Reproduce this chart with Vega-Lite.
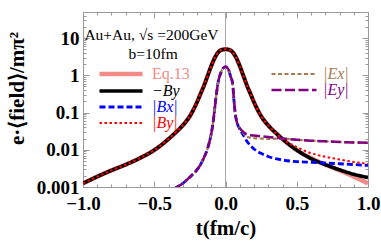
{
  "$schema": "https://vega.github.io/schema/vega-lite/v6.json",
  "width": 285,
  "height": 175,
  "autosize": "none",
  "padding": {"left": 83, "top": 12, "right": 13, "bottom": 58},
  "config": {
    "view": {"stroke": "#9a9a9a", "strokeWidth": 1},
    "font": "Liberation Serif"
  },
  "datasets": {
    "curves": [
      {"g": "B", "s": "Eq.13", "t": -1, "v": 0.00125}, {"g": "B", "s": "Eq.13", "t": -0.9, "v": 0.0019}, {"g": "B", "s": "Eq.13", "t": -0.8, "v": 0.0028}, {"g": "B", "s": "Eq.13", "t": -0.7, "v": 0.004}, {"g": "B", "s": "Eq.13", "t": -0.6, "v": 0.006}, {"g": "B", "s": "Eq.13", "t": -0.5, "v": 0.0098}, {"g": "B", "s": "Eq.13", "t": -0.45, "v": 0.0135}, {"g": "B", "s": "Eq.13", "t": -0.4, "v": 0.0195}, {"g": "B", "s": "Eq.13", "t": -0.35, "v": 0.029}, {"g": "B", "s": "Eq.13", "t": -0.3, "v": 0.045}, {"g": "B", "s": "Eq.13", "t": -0.25, "v": 0.08}, {"g": "B", "s": "Eq.13", "t": -0.2, "v": 0.19}, {"g": "B", "s": "Eq.13", "t": -0.175, "v": 0.32}, {"g": "B", "s": "Eq.13", "t": -0.15, "v": 0.54}, {"g": "B", "s": "Eq.13", "t": -0.125, "v": 0.98}, {"g": "B", "s": "Eq.13", "t": -0.1, "v": 1.78}, {"g": "B", "s": "Eq.13", "t": -0.075, "v": 2.95}, {"g": "B", "s": "Eq.13", "t": -0.05, "v": 4.2}, {"g": "B", "s": "Eq.13", "t": -0.025, "v": 4.85}, {"g": "B", "s": "Eq.13", "t": 0, "v": 5.0},
      {"g": "B", "s": "Eq.13", "t": 0.025, "v": 4.85}, {"g": "B", "s": "Eq.13", "t": 0.05, "v": 4.2}, {"g": "B", "s": "Eq.13", "t": 0.075, "v": 2.95}, {"g": "B", "s": "Eq.13", "t": 0.1, "v": 1.78}, {"g": "B", "s": "Eq.13", "t": 0.125, "v": 0.98}, {"g": "B", "s": "Eq.13", "t": 0.15, "v": 0.54}, {"g": "B", "s": "Eq.13", "t": 0.175, "v": 0.32}, {"g": "B", "s": "Eq.13", "t": 0.2, "v": 0.19}, {"g": "B", "s": "Eq.13", "t": 0.25, "v": 0.08}, {"g": "B", "s": "Eq.13", "t": 0.3, "v": 0.045}, {"g": "B", "s": "Eq.13", "t": 0.35, "v": 0.029}, {"g": "B", "s": "Eq.13", "t": 0.4, "v": 0.0195}, {"g": "B", "s": "Eq.13", "t": 0.45, "v": 0.0135}, {"g": "B", "s": "Eq.13", "t": 0.5, "v": 0.0098}, {"g": "B", "s": "Eq.13", "t": 0.6, "v": 0.006}, {"g": "B", "s": "Eq.13", "t": 0.7, "v": 0.004}, {"g": "B", "s": "Eq.13", "t": 0.8, "v": 0.0028}, {"g": "B", "s": "Eq.13", "t": 0.9, "v": 0.0019}, {"g": "B", "s": "Eq.13", "t": 1, "v": 0.00125},

      {"g": "B", "s": "−By", "t": -1, "v": 0.00125}, {"g": "B", "s": "−By", "t": -0.9, "v": 0.0019}, {"g": "B", "s": "−By", "t": -0.8, "v": 0.0028}, {"g": "B", "s": "−By", "t": -0.7, "v": 0.004}, {"g": "B", "s": "−By", "t": -0.6, "v": 0.006}, {"g": "B", "s": "−By", "t": -0.5, "v": 0.0098}, {"g": "B", "s": "−By", "t": -0.45, "v": 0.0135}, {"g": "B", "s": "−By", "t": -0.4, "v": 0.0195}, {"g": "B", "s": "−By", "t": -0.35, "v": 0.029}, {"g": "B", "s": "−By", "t": -0.3, "v": 0.045}, {"g": "B", "s": "−By", "t": -0.25, "v": 0.08}, {"g": "B", "s": "−By", "t": -0.2, "v": 0.19}, {"g": "B", "s": "−By", "t": -0.175, "v": 0.32}, {"g": "B", "s": "−By", "t": -0.15, "v": 0.54}, {"g": "B", "s": "−By", "t": -0.125, "v": 0.98}, {"g": "B", "s": "−By", "t": -0.1, "v": 1.78}, {"g": "B", "s": "−By", "t": -0.075, "v": 2.95}, {"g": "B", "s": "−By", "t": -0.05, "v": 4.2}, {"g": "B", "s": "−By", "t": -0.025, "v": 4.85}, {"g": "B", "s": "−By", "t": 0, "v": 5.0},
      {"g": "B", "s": "−By", "t": 0.025, "v": 4.85}, {"g": "B", "s": "−By", "t": 0.05, "v": 4.2}, {"g": "B", "s": "−By", "t": 0.075, "v": 2.95}, {"g": "B", "s": "−By", "t": 0.1, "v": 1.78}, {"g": "B", "s": "−By", "t": 0.125, "v": 0.98}, {"g": "B", "s": "−By", "t": 0.15, "v": 0.54}, {"g": "B", "s": "−By", "t": 0.175, "v": 0.32}, {"g": "B", "s": "−By", "t": 0.2, "v": 0.19}, {"g": "B", "s": "−By", "t": 0.25, "v": 0.08}, {"g": "B", "s": "−By", "t": 0.3, "v": 0.045}, {"g": "B", "s": "−By", "t": 0.35, "v": 0.029}, {"g": "B", "s": "−By", "t": 0.4, "v": 0.0195}, {"g": "B", "s": "−By", "t": 0.45, "v": 0.0135}, {"g": "B", "s": "−By", "t": 0.5, "v": 0.0098}, {"g": "B", "s": "−By", "t": 0.6, "v": 0.0058}, {"g": "B", "s": "−By", "t": 0.7, "v": 0.004}, {"g": "B", "s": "−By", "t": 0.8, "v": 0.0029}, {"g": "B", "s": "−By", "t": 0.9, "v": 0.0022}, {"g": "B", "s": "−By", "t": 1, "v": 0.0018},

      {"g": "B", "s": "|Bx|", "t": -0.36, "v": 0.0009}, {"g": "B", "s": "|Bx|", "t": -0.34, "v": 0.001}, {"g": "B", "s": "|Bx|", "t": -0.3, "v": 0.00125}, {"g": "B", "s": "|Bx|", "t": -0.25, "v": 0.00185}, {"g": "B", "s": "|Bx|", "t": -0.2, "v": 0.0029}, {"g": "B", "s": "|Bx|", "t": -0.175, "v": 0.004}, {"g": "B", "s": "|Bx|", "t": -0.15, "v": 0.0063}, {"g": "B", "s": "|Bx|", "t": -0.125, "v": 0.011}, {"g": "B", "s": "|Bx|", "t": -0.1, "v": 0.027}, {"g": "B", "s": "|Bx|", "t": -0.09, "v": 0.045}, {"g": "B", "s": "|Bx|", "t": -0.08, "v": 0.09}, {"g": "B", "s": "|Bx|", "t": -0.07, "v": 0.2}, {"g": "B", "s": "|Bx|", "t": -0.06, "v": 0.4}, {"g": "B", "s": "|Bx|", "t": -0.05, "v": 0.7}, {"g": "B", "s": "|Bx|", "t": -0.035, "v": 1.1}, {"g": "B", "s": "|Bx|", "t": -0.02, "v": 1.5}, {"g": "B", "s": "|Bx|", "t": 0, "v": 1.7},
      {"g": "B", "s": "|Bx|", "t": 0.02, "v": 1.45}, {"g": "B", "s": "|Bx|", "t": 0.035, "v": 0.95}, {"g": "B", "s": "|Bx|", "t": 0.05, "v": 0.6}, {"g": "B", "s": "|Bx|", "t": 0.06, "v": 0.2}, {"g": "B", "s": "|Bx|", "t": 0.07, "v": 0.085}, {"g": "B", "s": "|Bx|", "t": 0.08, "v": 0.055}, {"g": "B", "s": "|Bx|", "t": 0.1, "v": 0.036}, {"g": "B", "s": "|Bx|", "t": 0.125, "v": 0.025}, {"g": "B", "s": "|Bx|", "t": 0.15, "v": 0.017}, {"g": "B", "s": "|Bx|", "t": 0.175, "v": 0.013}, {"g": "B", "s": "|Bx|", "t": 0.2, "v": 0.0105}, {"g": "B", "s": "|Bx|", "t": 0.25, "v": 0.008}, {"g": "B", "s": "|Bx|", "t": 0.3, "v": 0.0066}, {"g": "B", "s": "|Bx|", "t": 0.35, "v": 0.0058}, {"g": "B", "s": "|Bx|", "t": 0.4, "v": 0.0053}, {"g": "B", "s": "|Bx|", "t": 0.5, "v": 0.0048}, {"g": "B", "s": "|Bx|", "t": 0.6, "v": 0.0046}, {"g": "B", "s": "|Bx|", "t": 0.7, "v": 0.0044}, {"g": "B", "s": "|Bx|", "t": 0.8, "v": 0.0042}, {"g": "B", "s": "|Bx|", "t": 0.9, "v": 0.004}, {"g": "B", "s": "|Bx|", "t": 1, "v": 0.0038},

      {"g": "B", "s": "|By|", "t": -1, "v": 0.00125}, {"g": "B", "s": "|By|", "t": -0.9, "v": 0.0019}, {"g": "B", "s": "|By|", "t": -0.8, "v": 0.0028}, {"g": "B", "s": "|By|", "t": -0.7, "v": 0.004}, {"g": "B", "s": "|By|", "t": -0.6, "v": 0.006}, {"g": "B", "s": "|By|", "t": -0.5, "v": 0.0098}, {"g": "B", "s": "|By|", "t": -0.45, "v": 0.0135}, {"g": "B", "s": "|By|", "t": -0.4, "v": 0.0195}, {"g": "B", "s": "|By|", "t": -0.35, "v": 0.029}, {"g": "B", "s": "|By|", "t": -0.3, "v": 0.045}, {"g": "B", "s": "|By|", "t": -0.25, "v": 0.08}, {"g": "B", "s": "|By|", "t": -0.2, "v": 0.19}, {"g": "B", "s": "|By|", "t": -0.175, "v": 0.32}, {"g": "B", "s": "|By|", "t": -0.15, "v": 0.54}, {"g": "B", "s": "|By|", "t": -0.125, "v": 0.98}, {"g": "B", "s": "|By|", "t": -0.1, "v": 1.78}, {"g": "B", "s": "|By|", "t": -0.075, "v": 2.95}, {"g": "B", "s": "|By|", "t": -0.05, "v": 4.2}, {"g": "B", "s": "|By|", "t": -0.025, "v": 4.85}, {"g": "B", "s": "|By|", "t": 0, "v": 5.0},
      {"g": "B", "s": "|By|", "t": 0.025, "v": 4.85}, {"g": "B", "s": "|By|", "t": 0.05, "v": 4.2}, {"g": "B", "s": "|By|", "t": 0.075, "v": 2.95}, {"g": "B", "s": "|By|", "t": 0.1, "v": 1.78}, {"g": "B", "s": "|By|", "t": 0.125, "v": 0.98}, {"g": "B", "s": "|By|", "t": 0.15, "v": 0.54}, {"g": "B", "s": "|By|", "t": 0.175, "v": 0.32}, {"g": "B", "s": "|By|", "t": 0.2, "v": 0.19}, {"g": "B", "s": "|By|", "t": 0.25, "v": 0.08}, {"g": "B", "s": "|By|", "t": 0.3, "v": 0.045}, {"g": "B", "s": "|By|", "t": 0.35, "v": 0.029}, {"g": "B", "s": "|By|", "t": 0.4, "v": 0.0195}, {"g": "B", "s": "|By|", "t": 0.45, "v": 0.0148}, {"g": "B", "s": "|By|", "t": 0.5, "v": 0.0118}, {"g": "B", "s": "|By|", "t": 0.6, "v": 0.0081}, {"g": "B", "s": "|By|", "t": 0.7, "v": 0.0065}, {"g": "B", "s": "|By|", "t": 0.8, "v": 0.0055}, {"g": "B", "s": "|By|", "t": 0.9, "v": 0.0047}, {"g": "B", "s": "|By|", "t": 1, "v": 0.0042},

      {"g": "E", "s": "|Ex|", "t": -0.36, "v": 0.0009}, {"g": "E", "s": "|Ex|", "t": -0.34, "v": 0.001}, {"g": "E", "s": "|Ex|", "t": -0.3, "v": 0.00125}, {"g": "E", "s": "|Ex|", "t": -0.25, "v": 0.00185}, {"g": "E", "s": "|Ex|", "t": -0.2, "v": 0.0029}, {"g": "E", "s": "|Ex|", "t": -0.175, "v": 0.004}, {"g": "E", "s": "|Ex|", "t": -0.15, "v": 0.0063}, {"g": "E", "s": "|Ex|", "t": -0.125, "v": 0.011}, {"g": "E", "s": "|Ex|", "t": -0.1, "v": 0.027}, {"g": "E", "s": "|Ex|", "t": -0.09, "v": 0.045}, {"g": "E", "s": "|Ex|", "t": -0.08, "v": 0.09}, {"g": "E", "s": "|Ex|", "t": -0.07, "v": 0.2}, {"g": "E", "s": "|Ex|", "t": -0.06, "v": 0.4}, {"g": "E", "s": "|Ex|", "t": -0.05, "v": 0.7}, {"g": "E", "s": "|Ex|", "t": -0.035, "v": 1.1}, {"g": "E", "s": "|Ex|", "t": -0.02, "v": 1.5}, {"g": "E", "s": "|Ex|", "t": 0, "v": 1.7},
      {"g": "E", "s": "|Ex|", "t": 0.02, "v": 1.45}, {"g": "E", "s": "|Ex|", "t": 0.035, "v": 0.95}, {"g": "E", "s": "|Ex|", "t": 0.05, "v": 0.6}, {"g": "E", "s": "|Ex|", "t": 0.06, "v": 0.2}, {"g": "E", "s": "|Ex|", "t": 0.07, "v": 0.085}, {"g": "E", "s": "|Ex|", "t": 0.08, "v": 0.055}, {"g": "E", "s": "|Ex|", "t": 0.1, "v": 0.038}, {"g": "E", "s": "|Ex|", "t": 0.125, "v": 0.028}, {"g": "E", "s": "|Ex|", "t": 0.15, "v": 0.0225}, {"g": "E", "s": "|Ex|", "t": 0.2, "v": 0.0205}, {"g": "E", "s": "|Ex|", "t": 0.25, "v": 0.02}, {"g": "E", "s": "|Ex|", "t": 0.3, "v": 0.0195}, {"g": "E", "s": "|Ex|", "t": 0.35, "v": 0.0198}, {"g": "E", "s": "|Ex|", "t": 0.4, "v": 0.02}, {"g": "E", "s": "|Ex|", "t": 0.5, "v": 0.0185}, {"g": "E", "s": "|Ex|", "t": 0.6, "v": 0.0175}, {"g": "E", "s": "|Ex|", "t": 0.7, "v": 0.0168}, {"g": "E", "s": "|Ex|", "t": 0.8, "v": 0.0162}, {"g": "E", "s": "|Ex|", "t": 0.9, "v": 0.0157}, {"g": "E", "s": "|Ex|", "t": 1, "v": 0.0153},

      {"g": "E", "s": "|Ey|", "t": -0.36, "v": 0.0009}, {"g": "E", "s": "|Ey|", "t": -0.34, "v": 0.001}, {"g": "E", "s": "|Ey|", "t": -0.3, "v": 0.00125}, {"g": "E", "s": "|Ey|", "t": -0.25, "v": 0.00185}, {"g": "E", "s": "|Ey|", "t": -0.2, "v": 0.0029}, {"g": "E", "s": "|Ey|", "t": -0.175, "v": 0.004}, {"g": "E", "s": "|Ey|", "t": -0.15, "v": 0.0063}, {"g": "E", "s": "|Ey|", "t": -0.125, "v": 0.011}, {"g": "E", "s": "|Ey|", "t": -0.1, "v": 0.027}, {"g": "E", "s": "|Ey|", "t": -0.09, "v": 0.045}, {"g": "E", "s": "|Ey|", "t": -0.08, "v": 0.09}, {"g": "E", "s": "|Ey|", "t": -0.07, "v": 0.2}, {"g": "E", "s": "|Ey|", "t": -0.06, "v": 0.4}, {"g": "E", "s": "|Ey|", "t": -0.05, "v": 0.7}, {"g": "E", "s": "|Ey|", "t": -0.035, "v": 1.1}, {"g": "E", "s": "|Ey|", "t": -0.02, "v": 1.5}, {"g": "E", "s": "|Ey|", "t": 0, "v": 1.7},
      {"g": "E", "s": "|Ey|", "t": 0.02, "v": 1.45}, {"g": "E", "s": "|Ey|", "t": 0.035, "v": 0.95}, {"g": "E", "s": "|Ey|", "t": 0.05, "v": 0.6}, {"g": "E", "s": "|Ey|", "t": 0.06, "v": 0.2}, {"g": "E", "s": "|Ey|", "t": 0.07, "v": 0.085}, {"g": "E", "s": "|Ey|", "t": 0.08, "v": 0.055}, {"g": "E", "s": "|Ey|", "t": 0.1, "v": 0.038}, {"g": "E", "s": "|Ey|", "t": 0.125, "v": 0.03}, {"g": "E", "s": "|Ey|", "t": 0.15, "v": 0.026}, {"g": "E", "s": "|Ey|", "t": 0.2, "v": 0.024}, {"g": "E", "s": "|Ey|", "t": 0.25, "v": 0.023}, {"g": "E", "s": "|Ey|", "t": 0.3, "v": 0.022}, {"g": "E", "s": "|Ey|", "t": 0.35, "v": 0.021}, {"g": "E", "s": "|Ey|", "t": 0.4, "v": 0.02}, {"g": "E", "s": "|Ey|", "t": 0.5, "v": 0.0185}, {"g": "E", "s": "|Ey|", "t": 0.6, "v": 0.0175}, {"g": "E", "s": "|Ey|", "t": 0.7, "v": 0.0168}, {"g": "E", "s": "|Ey|", "t": 0.8, "v": 0.0162}, {"g": "E", "s": "|Ey|", "t": 0.9, "v": 0.0157}, {"g": "E", "s": "|Ey|", "t": 1, "v": 0.0153}
    ]
  },
  "data": {"name": "curves"},
  "layer": [
    {
      "layer": [
        {
          "data": {"values": [{}]},
          "mark": {"type": "rule", "color": "#a8a8a8", "strokeWidth": 1},
          "encoding": {"x": {"datum": 0, "type": "quantitative", "scale": {"domain": [-1, 1], "nice": false, "zero": false}}}
        },
        {
          "transform": [{"filter": "datum.g == 'B'"}],
          "mark": {"type": "line", "clip": true, "interpolate": "monotone"},
          "encoding": {
            "x": {
              "field": "t", "type": "quantitative",
              "scale": {"domain": [-1, 1], "nice": false, "zero": false},
              "axis": {
                "title": "t(fm/c)", "titleFont": "Liberation Serif", "titleFontWeight": "bold", "titleFontSize": 21, "titleColor": "black", "titlePadding": 4,
                "values": [-1, -0.5, 0, 0.5, 1], "format": ".1f",
                "labelFont": "Liberation Serif", "labelFontWeight": "bold", "labelFontSize": 19, "labelColor": "black",
                "labelOverlap": false, "labelFlush": false, "labelBound": false, "labelPadding": 7,
                "domain": false, "ticks": false,
                "grid": true, "gridColor": "#9a9a9a", "gridWidth": 1, "gridDash": [6, 163, 6]
              }
            },
            "y": {
              "field": "v", "type": "quantitative",
              "scale": {"type": "log", "domain": [0.001, 50], "nice": false, "zero": false},
              "axis": {
                "title": "e·⟨field⟩/mπ²", "titleFont": "Liberation Serif", "titleFontWeight": "bold", "titleFontSize": 21, "titleColor": "black",
                "titleX": -66, "titleY": 76, "titleAngle": 270, "titleAlign": "center", "titleBaseline": "middle",
                "values": [0.001, 0.01, 0.1, 1, 10], "format": "~g",
                "labelFont": "Liberation Serif", "labelFontWeight": "bold", "labelFontSize": 19, "labelColor": "black",
                "labelOverlap": false, "labelFlush": false, "labelBound": false, "labelPadding": 4, "labelBaseline": "middle",
                "domain": false, "ticks": false,
                "grid": true, "gridColor": "#9a9a9a", "gridWidth": 1, "gridDash": [6, 273, 6]
              }
            },
            "color": {
              "field": "s", "type": "nominal",
              "scale": {"domain": ["Eq.13", "−By", "|Bx|", "|By|"], "range": ["#f28b87", "#000000", "#0000ff", "#ff0000"]},
              "legend": {
                "title": null, "orient": "none", "legendX": 30, "legendY": 54,
                "symbolType": "M-6,0H6", "symbolSize": 51.4, "symbolOffset": 0,
                "labelFont": "Liberation Serif", "labelFontSize": 16, "labelOffset": 23, "rowPadding": -4,
                "encode": {"labels": {"update": {
                  "fill": {"signal": "datum.value === 'Eq.13' ? '#f28b87' : datum.value === '|Bx|' ? '#0000ff' : datum.value === '|By|' ? '#ff0000' : '#000000'"},
                  "fontStyle": {"signal": "datum.value === 'Eq.13' ? 'normal' : 'italic'"}
                }}}
              }
            },
            "strokeDash": {
              "field": "s", "type": "nominal",
              "scale": {"domain": ["Eq.13", "−By", "|Bx|", "|By|"], "range": [[1, 0], [1, 0], [6, 3], [2.5, 2.5]]}
            },
            "strokeWidth": {
              "field": "s", "type": "nominal",
              "scale": {"domain": ["Eq.13", "−By", "|Bx|", "|By|"], "range": [4.5, 2, 2, 2.2]}
            }
          }
        },
        {
          "transform": [{"filter": "datum.g == 'E'"}],
          "mark": {"type": "line", "clip": true, "interpolate": "monotone"},
          "encoding": {
            "x": {"field": "t", "type": "quantitative", "scale": {"domain": [-1, 1], "nice": false, "zero": false}},
            "y": {"field": "v", "type": "quantitative", "scale": {"type": "log", "domain": [0.001, 50], "nice": false, "zero": false}},
            "color": {
              "field": "s", "type": "nominal",
              "scale": {"domain": ["|Ex|", "|Ey|"], "range": ["#a87a4e", "#800080"]},
              "legend": {
                "title": null, "orient": "none", "legendX": 203, "legendY": 54,
                "symbolType": "M-6,0H6", "symbolSize": 56.25, "symbolOffset": 0,
                "labelFont": "Liberation Serif", "labelFontSize": 16, "labelOffset": 21, "rowPadding": -4,
                "encode": {"labels": {"update": {
                  "fill": {"signal": "datum.value === '|Ex|' ? '#a87a4e' : '#800080'"},
                  "fontStyle": {"value": "italic"}
                }}}
              }
            },
            "strokeDash": {
              "field": "s", "type": "nominal",
              "scale": {"domain": ["|Ex|", "|Ey|"], "range": [[4, 2.5], [10, 3.5]]}
            },
            "strokeWidth": {
              "field": "s", "type": "nominal",
              "scale": {"domain": ["|Ex|", "|Ey|"], "range": [2.2, 2.5]}
            }
          }
        },
        {
          "data": {"values": [{}]},
          "mark": {"type": "text", "align": "left", "baseline": "alphabetic", "font": "Liberation Serif", "fontSize": 15.5, "color": "black"},
          "encoding": {"x": {"datum": -0.99, "type": "quantitative"}, "y": {"datum": 8.9, "type": "quantitative"}, "text": {"value": "Au+Au, √s =200GeV"}}
        },
        {
          "data": {"values": [{}]},
          "mark": {"type": "text", "align": "left", "baseline": "alphabetic", "font": "Liberation Serif", "fontSize": 15.5, "color": "black"},
          "encoding": {"x": {"datum": -0.68, "type": "quantitative"}, "y": {"datum": 2.76, "type": "quantitative"}, "text": {"value": "b=10fm"}}
        }
      ],
      "resolve": {"scale": {"color": "independent", "strokeDash": "independent", "strokeWidth": "independent"}}
    },
    {
      "data": {"values": [{"t": 0, "v": 1}]},
      "mark": {"type": "point", "opacity": 0},
      "encoding": {
        "x": {
          "field": "t", "type": "quantitative",
          "scale": {"domain": [-1, 1], "nice": false, "zero": false},
          "axis": {
            "orient": "top", "title": null, "labels": false, "domain": false, "ticks": false,
            "values": [-1, -0.9, -0.8, -0.7, -0.6, -0.5, -0.4, -0.3, -0.2, -0.1, 0, 0.1, 0.2, 0.3, 0.4, 0.5, 0.6, 0.7, 0.8, 0.9, 1],
            "grid": true, "gridColor": "#9a9a9a", "gridWidth": 1, "gridDash": [3, 169, 3]
          }
        },
        "y": {
          "field": "v", "type": "quantitative",
          "scale": {"type": "log", "domain": [0.001, 50], "nice": false, "zero": false},
          "axis": {
            "orient": "right", "title": null, "labels": false, "domain": false, "ticks": false,
            "values": [0.001, 0.002, 0.003, 0.004, 0.005, 0.006, 0.007, 0.008, 0.009, 0.01, 0.02, 0.03, 0.04, 0.05, 0.06, 0.07, 0.08, 0.09, 0.1, 0.2, 0.3, 0.4, 0.5, 0.6, 0.7, 0.8, 0.9, 1, 2, 3, 4, 5, 6, 7, 8, 9, 10, 20, 30, 40],
            "grid": true, "gridColor": "#9a9a9a", "gridWidth": 1, "gridDash": [3, 279, 3]
          }
        }
      }
    }
  ],
  "resolve": {"axis": {"x": "independent", "y": "independent"}}
}
